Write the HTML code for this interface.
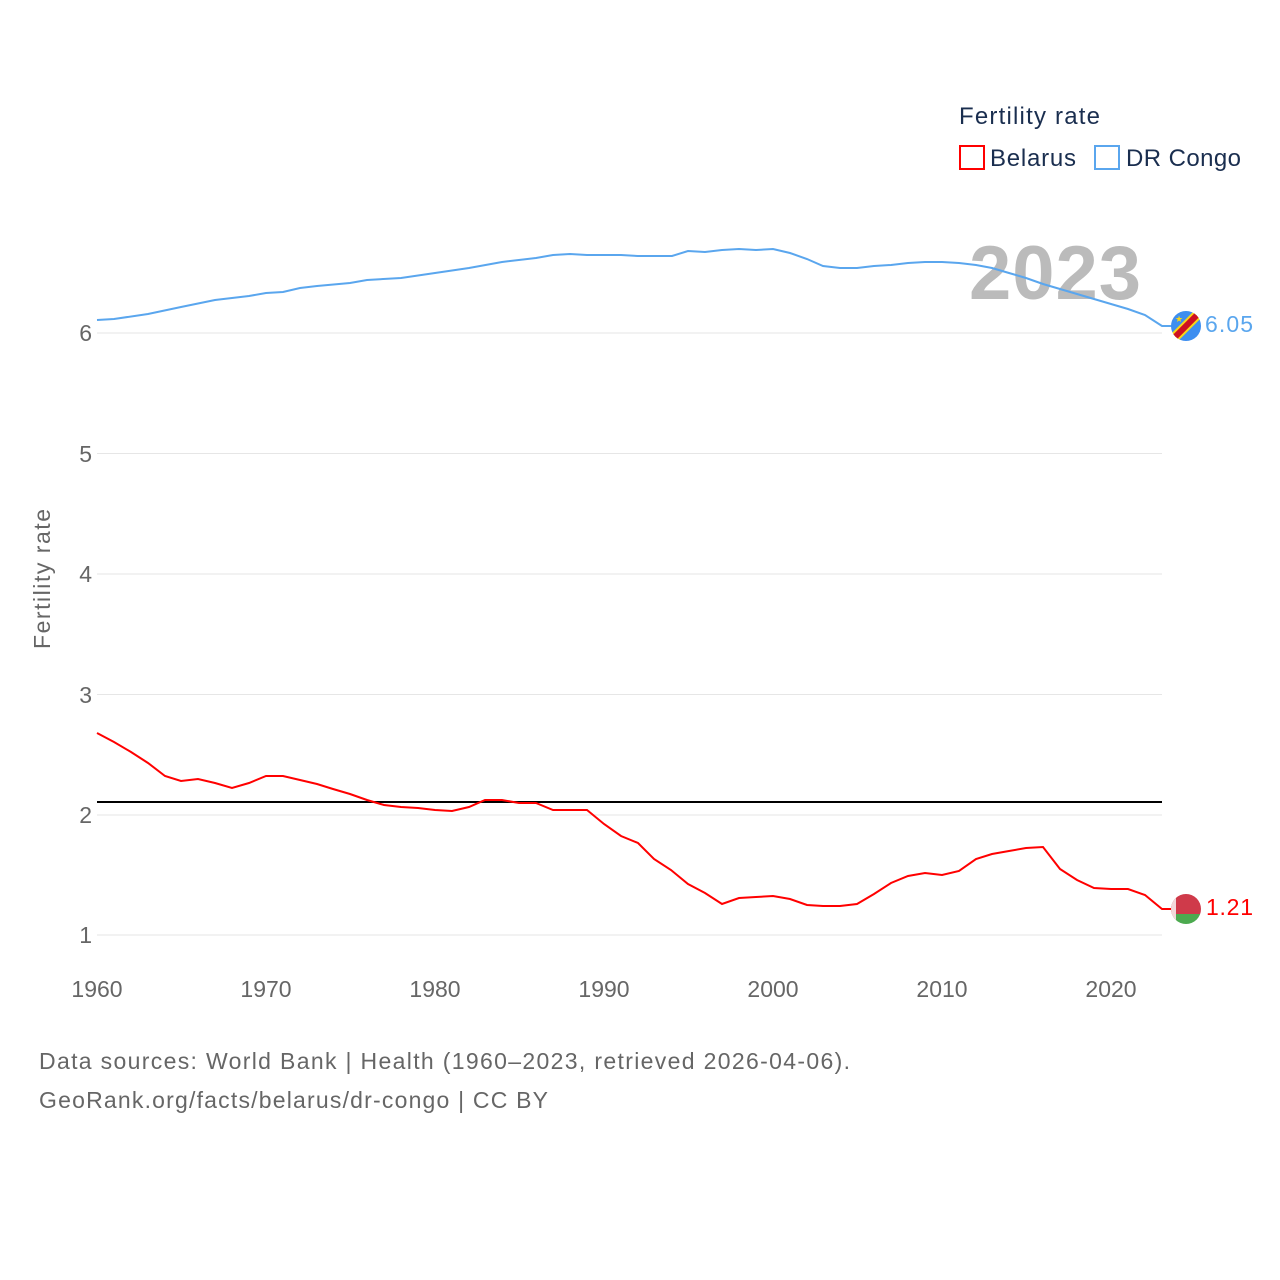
<!DOCTYPE html>
<html><head><meta charset="utf-8"><style>
html,body{margin:0;padding:0;background:#fff;}
svg{display:block;font-family:"Liberation Sans",sans-serif;}
</style></head><body>
<svg width="1280" height="1280" viewBox="0 0 1280 1280" xmlns="http://www.w3.org/2000/svg">
<g stroke="#e6e6e6" stroke-width="1">
<line x1="97" y1="333" x2="1162" y2="333"/>
<line x1="97" y1="453.5" x2="1162" y2="453.5"/>
<line x1="97" y1="574" x2="1162" y2="574"/>
<line x1="97" y1="694.5" x2="1162" y2="694.5"/>
<line x1="97" y1="815" x2="1162" y2="815"/>
<line x1="97" y1="935" x2="1162" y2="935"/>
</g>
<g fill="#666" font-size="23" text-anchor="end">
<text x="92" y="341">6</text><text x="92" y="462">5</text><text x="92" y="582">4</text>
<text x="92" y="703">3</text><text x="92" y="823">2</text><text x="92" y="943">1</text>
</g>
<g fill="#666" font-size="23" text-anchor="middle">
<text x="97" y="997">1960</text><text x="266" y="997">1970</text><text x="435" y="997">1980</text>
<text x="604" y="997">1990</text><text x="773" y="997">2000</text><text x="942" y="997">2010</text><text x="1111" y="997">2020</text>
</g>
<text transform="translate(50,579) rotate(-90)" fill="#666" font-size="23" text-anchor="middle" textLength="140">Fertility rate</text>
<text x="969" y="299" fill="#bbb" font-size="76" font-weight="bold" textLength="172">2023</text>
<line x1="97" y1="802" x2="1162" y2="802" stroke="#000" stroke-width="2"/>
<polyline fill="none" stroke="#5aa6ee" stroke-width="2" points="97,320 114,319 148,314 181,307 215,300 249,296 266,293 283,292 300,288 317,286 350,283 367,280 401,278 435,273 469,268 502,262 536,258 553,255 570,254 587,255 621,255 638,256 672,256 688,251 705,252 722,250 739,249 756,250 773,249 790,253 807,259 823,266 840,268 857,268 874,266 891,265 908,263 925,262 942,262 959,263 976,265 992,268 1009,273 1026,278 1043,284 1060,289 1077,294 1094,299 1111,304 1128,309 1145,315 1162,326 1172,326"/>
<polyline fill="none" stroke="#f00" stroke-width="2" points="97,733 114,742 131,752 148,763 165,776 181,781 198,779 215,783 232,788 249,783 266,776 283,776 300,780 317,784 333,789 350,794 367,800 384,805 401,807 418,808 435,810 452,811 469,807 485,800 502,800 519,803 536,803 553,810 570,810 587,810 604,824 621,836 638,843 654,859 671,870 688,884 705,893 722,904 739,898 756,897 773,896 790,899 807,905 823,906 840,906 857,904 874,894 891,883 908,876 925,873 942,875 959,871 976,859 992,854 1009,851 1026,848 1043,847 1060,869 1077,880 1094,888 1111,889 1128,889 1145,895 1162,909 1172,909"/>
<defs><clipPath id="c1"><circle cx="1186" cy="326" r="15"/></clipPath><clipPath id="c2"><circle cx="1186" cy="909" r="15"/></clipPath></defs>
<g clip-path="url(#c1)">
<rect x="1170" y="310" width="32" height="32" fill="#3d8ef0"/>
<line x1="1170" y1="342" x2="1202" y2="310" stroke="#f7d618" stroke-width="10"/>
<line x1="1170" y1="342" x2="1202" y2="310" stroke="#ce1021" stroke-width="6"/>
<text x="1175" y="322" fill="#f7d618" font-size="9">★</text>
</g>
<g clip-path="url(#c2)">
<rect x="1170" y="893" width="32" height="21" fill="#cf3a4a"/>
<rect x="1170" y="914" width="32" height="11" fill="#4caa4f"/>
<rect x="1170" y="893" width="6" height="32" fill="#f2d8da"/>
</g>
<text x="1205" y="332" fill="#5aa6ee" font-size="23" textLength="48">6.05</text>
<text x="1206" y="915" fill="#f00" font-size="23" textLength="47">1.21</text>
<text x="959" y="124" fill="#1a2e4f" font-size="24" textLength="141">Fertility rate</text>
<rect x="960" y="146" width="24" height="23" fill="none" stroke="#f00" stroke-width="2"/>
<text x="990" y="166" fill="#1a2e4f" font-size="24" textLength="86">Belarus</text>
<rect x="1095" y="146" width="24" height="23" fill="none" stroke="#5aa6ee" stroke-width="2"/>
<text x="1126" y="166" fill="#1a2e4f" font-size="24" textLength="115">DR Congo</text>
<text x="39" y="1069" fill="#666" font-size="23" textLength="811">Data sources: World Bank | Health (1960–2023, retrieved 2026-04-06).</text>
<text x="39" y="1108" fill="#666" font-size="23" textLength="509">GeoRank.org/facts/belarus/dr-congo | CC BY</text>
</svg>
</body></html>
